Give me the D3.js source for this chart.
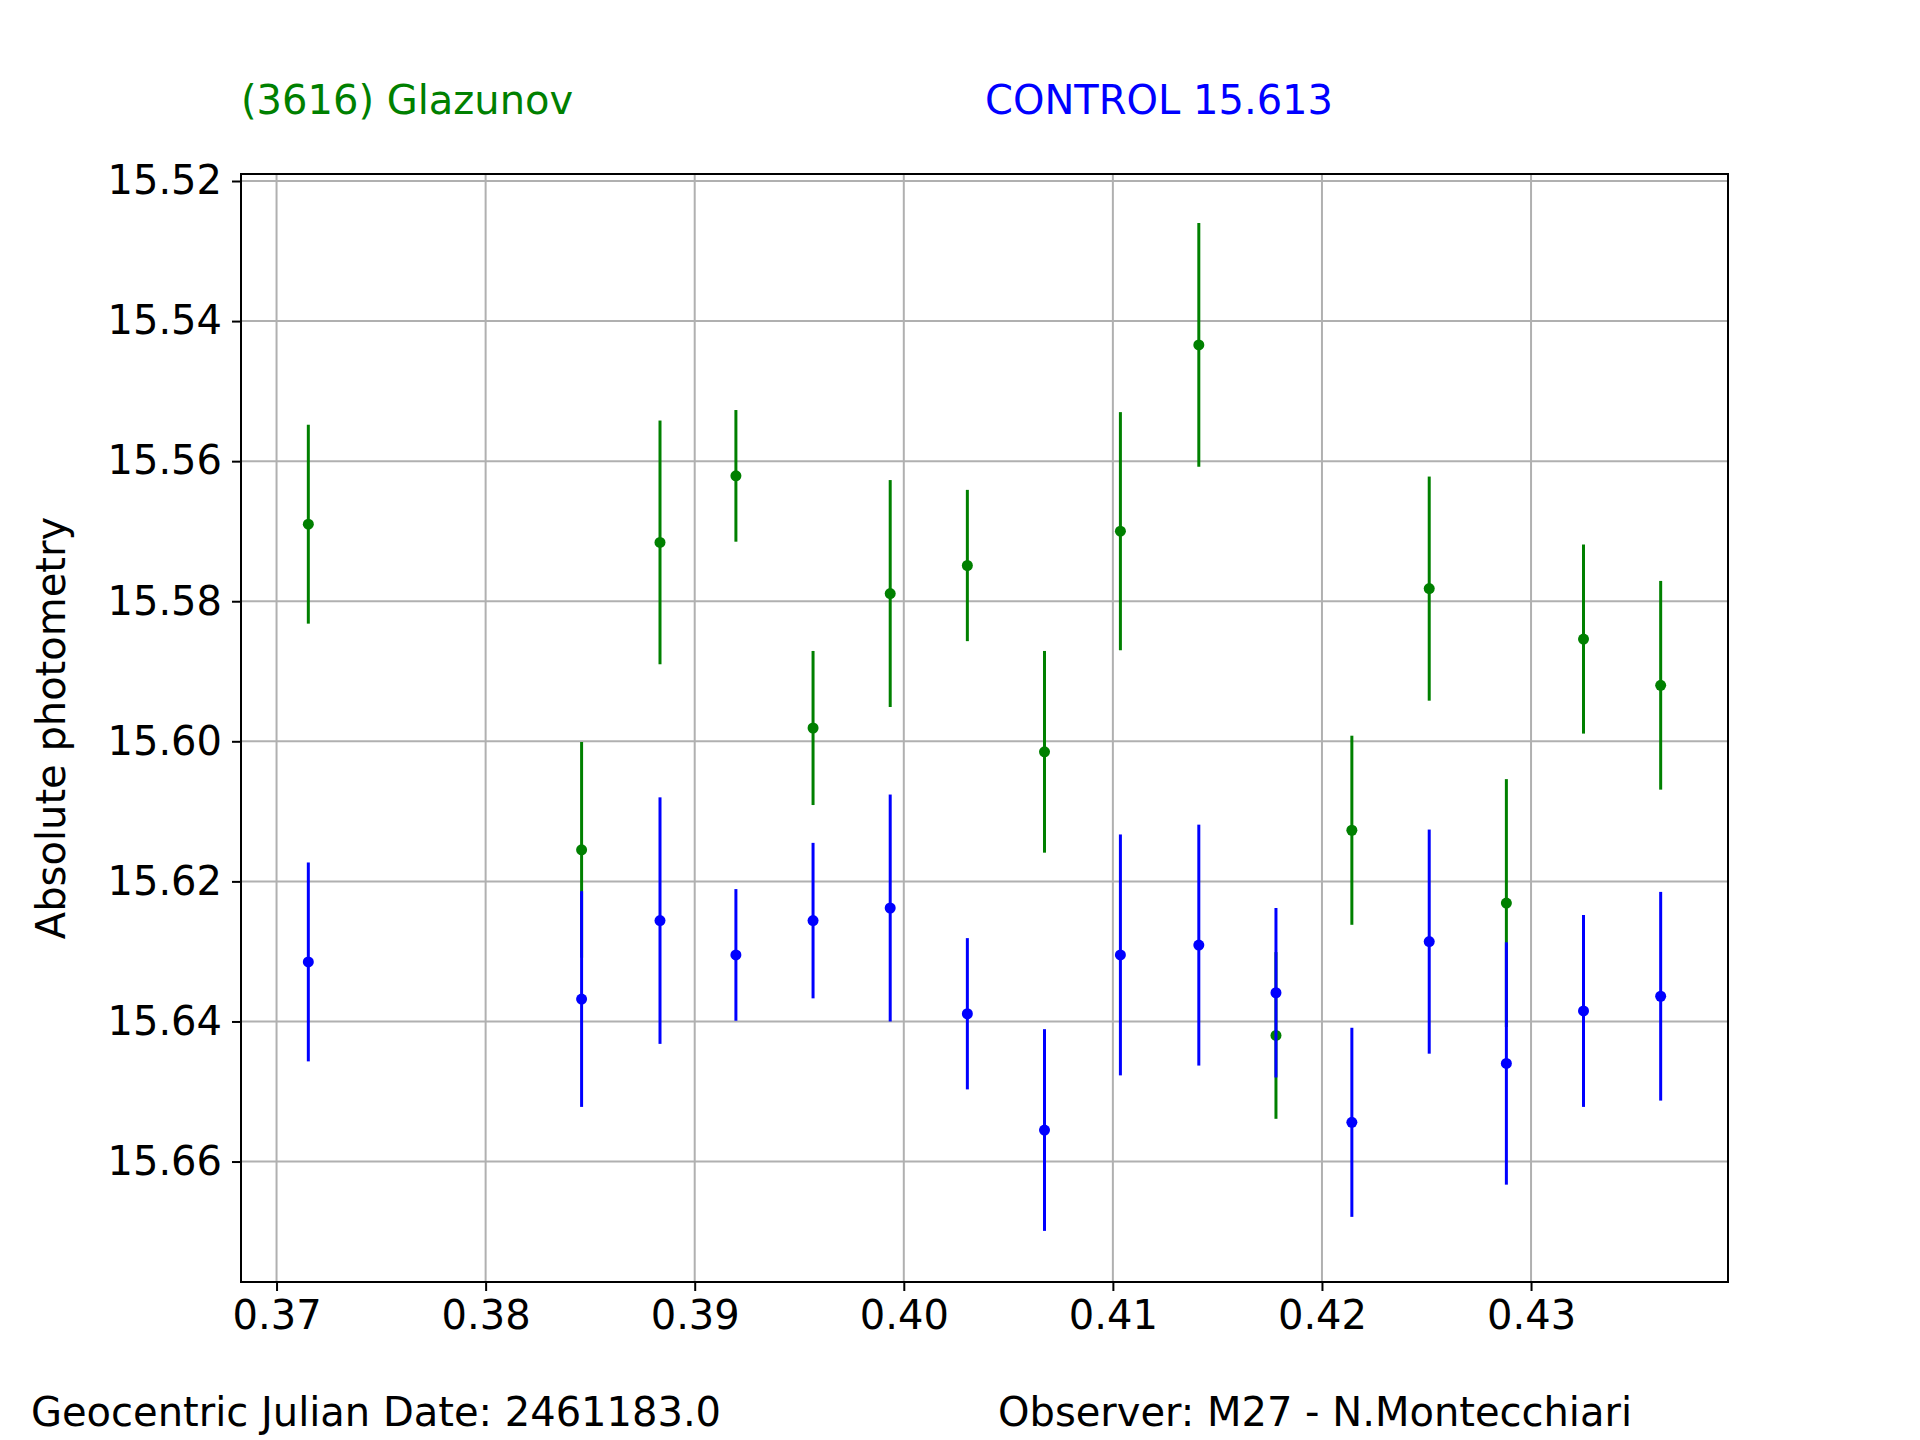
<!DOCTYPE html>
<html><head><meta charset="utf-8">
<script src="https://cdn.jsdelivr.net/npm/d3@7"></script>
<style>body{margin:0;background:#fff}text{font-family:"DejaVu Sans",sans-serif}</style>
</head><body>
<svg id="chart" width="1920" height="1440"></svg>
<script>
// time axis (fraction of day)
var times = [0.37152, 0.38459, 0.38834, 0.39197, 0.39566, 0.39935, 0.40304, 0.40673,
	0.41036, 0.41411, 0.41780, 0.42143, 0.42513, 0.42882, 0.43251, 0.43620];
// asteroid (green)
var astMag = [15.5690, 15.6155, 15.5716, 15.5621, 15.5981, 15.5789, 15.5749, 15.6015,
	15.5700, 15.5434, 15.6420, 15.6127, 15.5782, 15.6231, 15.5854, 15.5920];
var astErr = [0.0142, 0.0154, 0.0174, 0.0094, 0.0110, 0.0162, 0.0108, 0.0144,
	0.0170, 0.0174, 0.0119, 0.0135, 0.0160, 0.0177, 0.0135, 0.0149];
// control star (blue)
var ctlMag = [15.6315, 15.6368, 15.6256, 15.6305, 15.6256, 15.6238, 15.6389, 15.6555,
	15.6305, 15.6291, 15.6359, 15.6544, 15.6286, 15.6460, 15.6385, 15.6364];
var ctlErr = [0.0142, 0.0154, 0.0176, 0.0094, 0.0111, 0.0162, 0.0108, 0.0144,
	0.0172, 0.0172, 0.0121, 0.0135, 0.0160, 0.0173, 0.0137, 0.0149];
var xTicks = [0.37, 0.38, 0.39, 0.40, 0.41, 0.42, 0.43];
var yTicks = [15.52, 15.54, 15.56, 15.58, 15.60, 15.62, 15.64, 15.66];

var svg = d3.select("#chart");
var L = 241, R = 1728, T = 174, B = 1282;
var FS = 40;
var x = d3.scaleLinear().domain([0.3683, 0.43942]).range([L, R]);
var y = d3.scaleLinear().domain([15.519, 15.6772]).range([T, B]);

// grid
svg.append("g").selectAll("line").data(xTicks).enter().append("line")
	.attr("x1", d => x(d)).attr("x2", d => x(d)).attr("y1", T).attr("y2", B)
	.attr("stroke", "#b0b0b0").attr("stroke-width", 2);
svg.append("g").selectAll("line").data(yTicks).enter().append("line")
	.attr("y1", d => y(d)).attr("y2", d => y(d)).attr("x1", L).attr("x2", R)
	.attr("stroke", "#b0b0b0").attr("stroke-width", 2);

// axes
var xAxis = svg.append("g").attr("transform", "translate(0," + B + ")")
	.call(d3.axisBottom(x).tickValues(xTicks).tickFormat(d3.format(".2f")).tickSize(9).tickPadding(10));
var yAxis = svg.append("g").attr("transform", "translate(" + L + ",0)")
	.call(d3.axisLeft(y).tickValues(yTicks).tickFormat(d3.format(".2f")).tickSize(9).tickPadding(10));
[xAxis, yAxis].forEach(function(a) {
	a.select(".domain").remove();
	a.selectAll("line").attr("stroke", "#000").attr("stroke-width", 2);
	a.selectAll("text").attr("font-size", FS).attr("font-family", "DejaVu Sans").attr("fill", "#000");
});
svg.append("rect").attr("x", L).attr("y", T).attr("width", R - L).attr("height", B - T)
	.attr("fill", "none").attr("stroke", "#000").attr("stroke-width", 2);

// series with error bars
function drawSeries(mag, err, color) {
	var g = svg.append("g");
	g.selectAll("line").data(times).enter().append("line")
		.attr("x1", d => x(d)).attr("x2", d => x(d))
		.attr("y1", (d, i) => y(mag[i] - err[i])).attr("y2", (d, i) => y(mag[i] + err[i]))
		.attr("stroke", color).attr("stroke-width", 3);
	g.selectAll("circle").data(times).enter().append("circle")
		.attr("cx", d => x(d)).attr("cy", (d, i) => y(mag[i])).attr("r", 5.5)
		.attr("fill", color);
}
drawSeries(astMag, astErr, "green");
drawSeries(ctlMag, ctlErr, "blue");

// texts
svg.append("text").attr("x", 241).attr("y", 114).attr("font-size", FS).attr("fill", "green").text("(3616) Glazunov");
svg.append("text").attr("x", 985).attr("y", 114).attr("font-size", FS).attr("fill", "blue").text("CONTROL 15.613");
svg.append("text").attr("x", 31).attr("y", 1426).attr("font-size", FS).text("Geocentric Julian Date: 2461183.0");
svg.append("text").attr("x", 998).attr("y", 1426).attr("font-size", FS).text("Observer: M27 - N.Montecchiari");
svg.append("text").attr("transform", "translate(65," + ((T + B) / 2) + ") rotate(-90)")
	.attr("text-anchor", "middle").attr("font-size", FS).text("Absolute photometry");
</script>
</body></html>
